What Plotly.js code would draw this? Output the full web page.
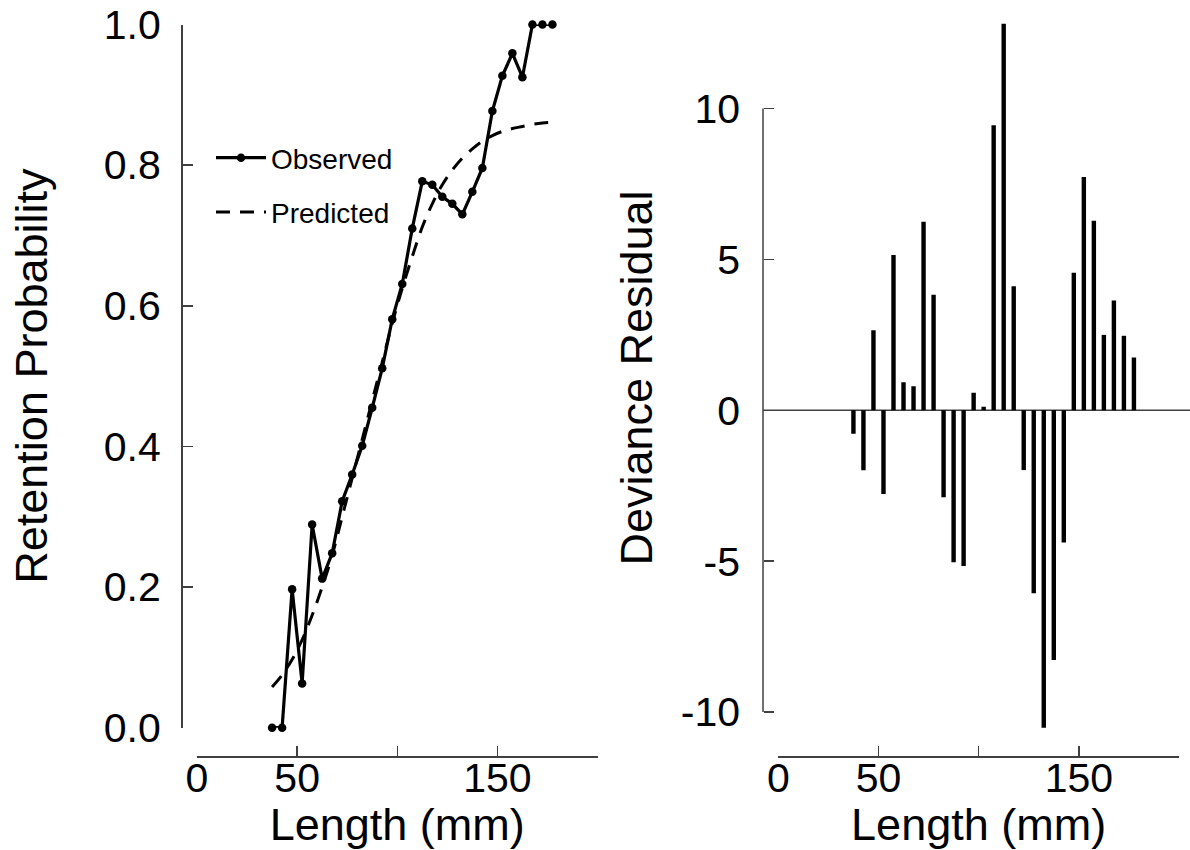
<!DOCTYPE html>
<html>
<head>
<meta charset="utf-8">
<script src="https://cdn.plot.ly/plotly-3.0.1.min.js"></script>
<style>html,body{margin:0;padding:0;background:#fff;}#chart{width:1190px;height:850px;}</style>
</head>
<body>
<div id="chart"></div>
<script>
// Length classes (mm)
const lengths = [37.5, 42.5, 47.5, 52.5, 57.5, 62.5, 67.5, 72.5, 77.5, 82.5, 87.5, 92.5, 97.5, 102.5, 107.5, 112.5, 117.5, 122.5, 127.5, 132.5, 137.5, 142.5, 147.5, 152.5, 157.5, 162.5, 167.5, 172.5, 177.5];
// Observed retention probability
const observed = [0.0, 0.0, 0.197, 0.063, 0.289, 0.212, 0.248, 0.322, 0.360, 0.401, 0.455, 0.511, 0.581, 0.631, 0.710, 0.777, 0.772, 0.755, 0.745, 0.730, 0.762, 0.796, 0.877, 0.927, 0.959, 0.925, 1.0, 1.0, 1.0];
// Predicted retention probability
const predicted = [0.058, 0.075, 0.097, 0.125, 0.160, 0.200, 0.245, 0.300, 0.355, 0.410, 0.465, 0.520, 0.575, 0.625, 0.670, 0.712, 0.745, 0.772, 0.793, 0.810, 0.823, 0.834, 0.842, 0.848, 0.852, 0.855, 0.858, 0.860, 0.861];
// Deviance residuals
const residuals = [-0.78, -1.99, 2.65, -2.77, 5.15, 0.93, 0.80, 6.25, 3.83, -2.88, -5.04, -5.16, 0.58, 0.12, 9.45, 12.81, 4.11, -1.98, -6.06, -10.52, -8.28, -4.38, 4.56, 7.73, 6.28, 2.50, 3.64, 2.47, 1.75];

const xTickVals = [0, 50, 100, 150, 200];
const xTickText = ['0', '50', '', '150', ''];
const leftYTickVals = [0, 0.2, 0.4, 0.6, 0.8, 1.0];
const leftYTickText = ['0.0', '0.2', '0.4', '0.6', '0.8', '1.0'];
const rightYTickVals = [-10, -5, 0, 5, 10];
const rightYTickText = ['-10', '-5', '0', '5', '10'];

const W = 1190, H = 850;
const fx = px => px / W;
const fy = py => (H - py) / H;

const FONT = 'Liberation Sans, Arial, sans-serif';
const AXC = '#404040';

const traces = [
  {
    x: lengths, y: observed, type: 'scatter', mode: 'lines+markers', name: 'Observed',
    line: {color: '#000', width: 3.2}, marker: {color: '#000', size: 8.5, symbol: 'circle'},
    cliponaxis: false, xaxis: 'x', yaxis: 'y', legendgroup: 'a'
  },
  {
    x: lengths, y: predicted, type: 'scatter', mode: 'lines', name: 'Predicted',
    line: {color: '#000', width: 3, dash: '14px,10px', shape: 'spline'},
    cliponaxis: false, xaxis: 'x', yaxis: 'y', legendgroup: 'b'
  },
  {
    x: lengths, y: residuals, type: 'bar', name: 'Residual', width: 2.2,
    marker: {color: '#000', line: {width: 0}}, showlegend: false,
    xaxis: 'x2', yaxis: 'y2'
  }
];

const xCommon = {
  range: [0, 200], tickvals: xTickVals, ticktext: xTickText,
  ticks: 'inside', ticklen: 10, tickwidth: 1.5, tickcolor: AXC,
  showline: true, linecolor: AXC, linewidth: 1.5, showgrid: false, zeroline: false,
  tickfont: {family: FONT, size: 41, color: '#000'},
  ticklabelstandoff: -15,
  anchor: 'free', position: fy(756), automargin: false,
  title: {text: 'Length (mm)', font: {family: FONT, size: 45, color: '#000'}, standoff: 11}
};

const layout = {
  width: W, height: H,
  margin: {l: 0, r: 0, t: 0, b: 0},
  paper_bgcolor: '#fff', plot_bgcolor: 'rgba(0,0,0,0)',
  font: {family: FONT, color: '#000'},
  showlegend: true,
  legend: {
    x: fx(211), y: fy(133), xanchor: 'left', yanchor: 'top',
    font: {family: FONT, size: 28, color: '#000'},
    bgcolor: 'rgba(0,0,0,0)', traceorder: 'grouped', tracegroupgap: 15,
    itemwidth: 50
  },
  xaxis: Object.assign({}, xCommon, {domain: [fx(197), fx(597.5)]}),
  xaxis2: Object.assign({}, xCommon, {domain: [fx(778.3), fx(1179)]}),
  yaxis: {
    domain: [fy(727.7), fy(24.5)], range: [0, 1],
    tickvals: leftYTickVals, ticktext: leftYTickText,
    ticks: 'inside', ticklen: 10, tickwidth: 1.5, tickcolor: AXC,
    showline: true, linecolor: AXC, linewidth: 1.5, showgrid: false, zeroline: false,
    tickfont: {family: FONT, size: 41, color: '#000'}, ticklabelstandoff: 12,
    anchor: 'free', position: fx(181), automargin: false,
    title: {text: 'Retention Probability', font: {family: FONT, size: 45, color: '#000'}, standoff: 40}
  },
  yaxis2: {
    domain: [fy(756), 1.0], range: [-11.458, 13.600],
    tickvals: rightYTickVals, ticktext: rightYTickText,
    ticks: 'inside', ticklen: 10, tickwidth: 1.5, tickcolor: AXC,
    showline: false, showgrid: false, zeroline: false,
    tickfont: {family: FONT, size: 41, color: '#000'}, ticklabelstandoff: 23,
    anchor: 'free', position: fx(763), automargin: false,
    title: {text: 'Deviance Residual', font: {family: FONT, size: 45, color: '#000'}, standoff: 12}
  },
  shapes: [
    {type: 'line', xref: 'paper', yref: 'y2', x0: fx(763), x1: fx(763), y0: -10, y1: 10,
     line: {color: AXC, width: 1.5}},
    {type: 'line', xref: 'paper', yref: 'y2', x0: fx(763), x1: 1.0, y0: 0, y1: 0,
     line: {color: AXC, width: 1.5}, layer: 'below'}
  ]
};

Plotly.newPlot('chart', traces, layout, {displayModeBar: false, staticPlot: true});
</script>
</body>
</html>
